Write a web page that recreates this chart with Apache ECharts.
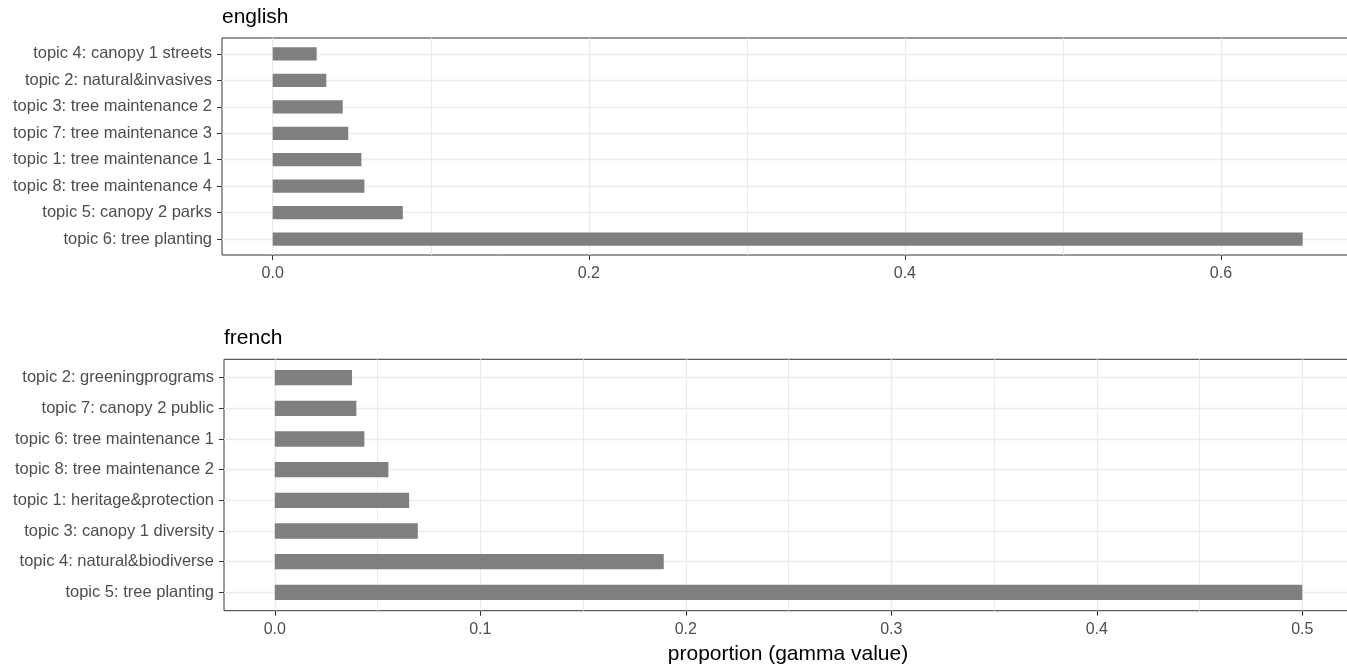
<!DOCTYPE html>
<html>
<head>
<meta charset="utf-8">
<script src="https://cdn.jsdelivr.net/npm/echarts@6/dist/echarts.min.js"></script>
<style>
html,body{margin:0;padding:0;background:#fff;}
#chart{width:1347px;height:666px;}
</style>
</head>
<body>
<div id="chart"></div>
<script>
// ---- data (top-to-bottom order) ----
const englishTopics = [
  'topic 4: canopy 1 streets',
  'topic 2: natural&invasives',
  'topic 3: tree maintenance 2',
  'topic 7: tree maintenance 3',
  'topic 1: tree maintenance 1',
  'topic 8: tree maintenance 4',
  'topic 5: canopy 2 parks',
  'topic 6: tree planting'
];
const englishValues = [0.0278, 0.0339, 0.0443, 0.0478, 0.0561, 0.0580, 0.0823, 0.6517];

const frenchTopics = [
  'topic 2: greeningprograms',
  'topic 7: canopy 2 public',
  'topic 6: tree maintenance 1',
  'topic 8: tree maintenance 2',
  'topic 1: heritage&protection',
  'topic 3: canopy 1 diversity',
  'topic 4: natural&biodiverse',
  'topic 5: tree planting'
];
const frenchValues = [0.0376, 0.0397, 0.0436, 0.0553, 0.0654, 0.0696, 0.1893, 0.5000];

const englishMajor = [0, 0.2, 0.4, 0.6];
const englishMinor = [0.1, 0.3, 0.5];
const frenchMajor = [0, 0.1, 0.2, 0.3, 0.4, 0.5];
const frenchMinor = [0.05, 0.15, 0.25, 0.35, 0.45];
const rowIdx = [0, 1, 2, 3, 4, 5, 6, 7];

const panelTitles = ['english', 'french'];
const xTitle = 'proportion (gamma value)';

// ---- layout ----
const FONT = '"Liberation Sans", Arial, sans-serif';
const GRID_C = '#EBEBEB';
const AX_C = '#333333';
const TXT_C = '#4D4D4D';

const panels = [
  {top: 38, height: 217, left: 222, width: 1130, min: -0.0321, max: 0.6829, titleTop: 6, major: englishMajor, minor: englishMinor, cats: englishTopics, vals: englishValues},
  {top: 359.3, height: 251.4, left: 224, width: 1128, min: -0.0247, max: 0.5242, titleTop: 327, major: frenchMajor, minor: frenchMinor, cats: frenchTopics, vals: frenchValues}
];

const grid = [], xAxis = [], yAxis = [], series = [], title = [];
panels.forEach((p, i) => {
  const step = p.height / 8.2;
  const outer = grid.length;
  grid.push({left: p.left, width: p.width, top: p.top, height: p.height, show: true,
    outerBoundsMode: 'none', containLabel: false,
    borderColor: AX_C, borderWidth: 1, backgroundColor: 'transparent'});
  const inner = grid.length;
  grid.push({left: p.left, width: p.width, top: p.top + 0.1 * step, height: 8 * step,
    outerBoundsMode: 'none', containLabel: false});

  // outer: major x axis with ticks/labels/major lines
  xAxis.push({gridIndex: outer, type: 'value', min: p.min, max: p.max, position: 'bottom',
    axisLine: {show: false, onZero: false},
    axisTick: {show: true, length: 5, customValues: p.major, lineStyle: {color: AX_C, width: 1}},
    axisLabel: {show: true, customValues: p.major, color: TXT_C, fontSize: 16, fontFamily: FONT, margin: 11,
      formatter: v => v.toFixed(1)},
    splitLine: {show: true, lineStyle: {color: GRID_C, width: 1.3}},
    name: i === 1 ? xTitle : '', nameLocation: 'middle', nameGap: 33,
    nameTextStyle: {color: '#000', fontSize: 21, fontFamily: FONT}
  });
  // outer: minor x grid lines
  xAxis.push({gridIndex: outer, type: 'value', min: p.min, max: p.max, position: 'top',
    axisLine: {show: false, onZero: false},
    axisTick: {show: false, length: 0, customValues: p.minor},
    axisLabel: {show: false, customValues: p.minor},
    splitLine: {show: true, lineStyle: {color: GRID_C, width: 1}}
  });
  // inner: hidden x for bars
  const barX = xAxis.length;
  xAxis.push({gridIndex: inner, type: 'value', min: p.min, max: p.max,
    axisLine: {show: false, onZero: false}, axisTick: {show: false}, axisLabel: {show: false}, splitLine: {show: false}});

  // outer y: horizontal grid lines at category centres
  yAxis.push({gridIndex: outer, type: 'value', min: -0.6, max: 7.6,
    axisLine: {show: false, onZero: false},
    axisTick: {show: false, length: 0, customValues: rowIdx},
    axisLabel: {show: false, customValues: rowIdx},
    splitLine: {show: true, lineStyle: {color: GRID_C, width: 1.3}}
  });
  // inner y: category labels
  const barY = yAxis.length;
  yAxis.push({gridIndex: inner, type: 'category', data: p.cats, inverse: true, position: 'left',
    axisLine: {show: false, onZero: false},
    axisTick: {show: true, alignWithLabel: true, interval: 0, length: 5, lineStyle: {color: AX_C, width: 1}},
    axisLabel: {show: true, interval: 0, color: TXT_C, fontSize: 16.5, fontFamily: FONT, margin: 10},
    splitLine: {show: false}
  });

  series.push({type: 'bar', xAxisIndex: barX, yAxisIndex: barY, data: p.vals, barWidth: '50%',
    itemStyle: {color: '#7F7F7F'}, silent: true, animation: false});

  title.push({text: panelTitles[i], left: p.left, top: p.titleTop + 1, padding: 0,
    textStyle: {color: '#000', fontSize: 21, fontWeight: 'normal', fontFamily: FONT}});
});

const chart = echarts.init(document.getElementById('chart'), null, {renderer: 'canvas'});
chart.setOption({
  animation: false,
  backgroundColor: '#fff',
  title, grid, xAxis, yAxis, series
});
</script>
</body>
</html>
